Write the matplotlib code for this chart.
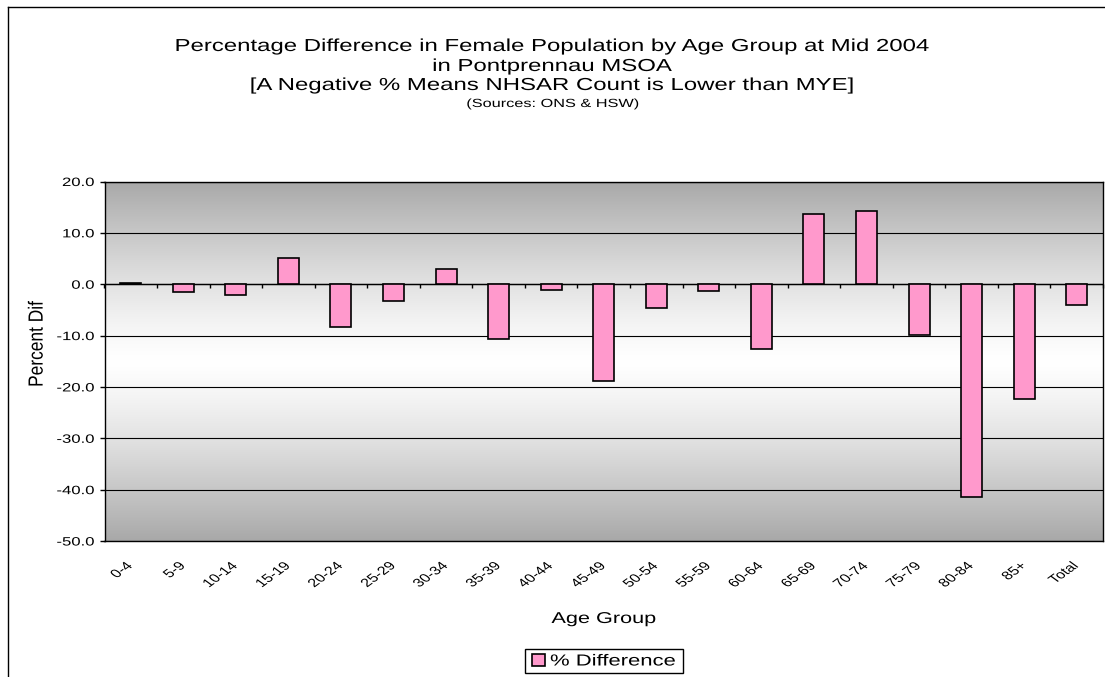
import numpy as np
import matplotlib
matplotlib.use('Agg')
import matplotlib.pyplot as plt
from matplotlib.patheffects import AbstractPathEffect
from matplotlib.transforms import Affine2D
from matplotlib.lines import Line2D
from matplotlib.ticker import FormatStrFormatter

# data
age_groups = ['0-4', '5-9', '10-14', '15-19', '20-24', '25-29', '30-34', '35-39',
              '40-44', '45-49', '50-54', '55-59', '60-64', '65-69', '70-74',
              '75-79', '80-84', '85+', 'Total']
pct_diff = [0.3, -1.5, -2.1, 5.1, -8.3, -3.2, 2.9, -10.7, -1.1, -18.8,
            -4.7, -1.3, -12.7, 13.7, 14.3, -9.9, -41.4, -22.3, -4.1]
y_ticks = [-50, -40, -30, -20, -10, 0, 10, 20]

title_lines = ['Percentage Difference in Female Population by Age Group at Mid 2004',
               'in Pontprennau MSOA',
               '[A Negative % Means NHSAR Count is Lower than MYE]']
source_line = '(Sources: ONS & HSW)'

plt.rcParams['font.family'] = 'Liberation Sans'
plt.rcParams['axes.unicode_minus'] = False

SX = 1.38  # the original text is drawn wider than normal


class HStretch(AbstractPathEffect):
    # widen glyphs horizontally around an anchor
    def __init__(self, anchor='center', sx=SX):
        super().__init__()
        self.anchor = anchor
        self.sx = sx

    def draw_path(self, renderer, gc, tpath, affine, rgbFace=None):
        if callable(self.anchor):
            x0 = self.anchor()
        else:
            ext = tpath.get_extents(affine)
            if self.anchor == 'right':
                x0 = ext.x1
            elif self.anchor == 'left':
                x0 = ext.x0
            else:
                x0 = (ext.x0 + ext.x1) / 2
        t = affine + Affine2D().translate(-x0, 0).scale(self.sx, 1).translate(x0, 0)
        renderer.draw_path(gc, tpath, t, rgbFace)


W, H = 1105, 677
fig = plt.figure(figsize=(W / 100, H / 100), dpi=100)
ax = fig.add_axes([104.5 / W, 1 - 541 / H, (1103 - 104.5) / W, (541 - 181.5) / H])

x = np.arange(len(age_groups))

# background gradient: grey at top and bottom, white in the middle
t = np.abs(np.linspace(-1, 1, 300))
g = 1 - 0.34 * t ** 1.3
grad = np.repeat(g[:, None, None], 3, axis=2).repeat(2, axis=1)
ax.imshow(grad, extent=(0, 1, 0, 1), transform=ax.transAxes, aspect='auto',
          zorder=0, interpolation='bilinear')

ax.yaxis.grid(True, color='black', lw=0.8)
ax.set_axisbelow(True)
ax.axhline(0, color='black', lw=1, zorder=1)

bars = ax.bar(x, pct_diff, width=0.4, color='#FF99CC', edgecolor='black',
              lw=1.2, zorder=2, label='% Difference')

# category tick marks along the zero line
bounds = np.arange(len(age_groups) + 1) - 0.5
ax.plot(bounds, np.zeros_like(bounds), ls='none', marker=3, ms=3.2, mew=1,
        color='black', zorder=3, clip_on=False)

ax.set_xlim(-0.5, len(age_groups) - 0.5)
ax.set_ylim(-50, 20)
ax.set_yticks(y_ticks)
ax.yaxis.set_major_formatter(FormatStrFormatter('%.1f'))
ax.tick_params(axis='y', direction='out', length=3.6, width=1, pad=3.5,
               labelsize=8.7)
ax.set_xticks(x)
ax.set_xticklabels(age_groups, rotation=45, ha='right', va='center',
                   rotation_mode='anchor', fontsize=8.5)
ax.tick_params(axis='x', length=0, pad=16.8)
for sp in ax.spines.values():
    sp.set_linewidth(1)
    sp.set_color('black')

ax.set_xlabel('Age Group', fontsize=11.3)
ax.xaxis.label.set_va('baseline')
ax.xaxis.set_label_coords(0.5, (541 - 623) / 359.5)
ax.set_ylabel('Percent Dif', fontsize=12.5)
ax.yaxis.label.set_va('center')
ax.yaxis.set_label_coords((37 - 104.5) / 998.5, (541 - 344) / 359.5)

# titles
baselines = [51, 71, 90]
for line, yb in zip(title_lines, baselines):
    txt = fig.text(0.5, 1 - yb / H, line, ha='center', va='baseline', fontsize=12.5)
    txt.set_path_effects([HStretch('center')])
src = fig.text(0.5, 1 - 107 / H, source_line, ha='center', va='baseline', fontsize=8.5)
src.set_path_effects([HStretch('center')])

# legend
leg = fig.legend(handles=[bars], labels=['% Difference'], loc='center',
                 bbox_to_anchor=(604 / W, 1 - 661 / H), bbox_transform=fig.transFigure,
                 fontsize=11.5, fancybox=False, framealpha=1, edgecolor='black',
                 borderpad=0.3, handlelength=0.6, handleheight=0.8,
                 handletextpad=0.23, borderaxespad=0)
leg.get_frame().set_linewidth(1)


def plot_center():
    return ax.bbox.x0 + ax.bbox.width / 2


leg.get_frame().set_path_effects([HStretch(plot_center)])
for h in leg.legend_handles:
    h.set_path_effects([HStretch(plot_center)])
for tx in leg.get_texts():
    tx.set_path_effects([HStretch(plot_center)])

for lbl in ax.get_xticklabels():
    lbl.set_path_effects([HStretch('right')])
for lbl in ax.get_yticklabels():
    lbl.set_path_effects([HStretch('right')])
ax.xaxis.label.set_path_effects([HStretch('center')])
ax.yaxis.label.set_path_effects([HStretch('center', sx=1.18)])

# outer chart border (left and top edges visible)
fig.add_artist(Line2D([8 / W, 8 / W], [0, 1 - 7 / H], color='black', lw=1))
fig.add_artist(Line2D([8 / W, 1], [1 - 7 / H, 1 - 7 / H], color='black', lw=1))

fig.savefig('out.png', dpi=100)
